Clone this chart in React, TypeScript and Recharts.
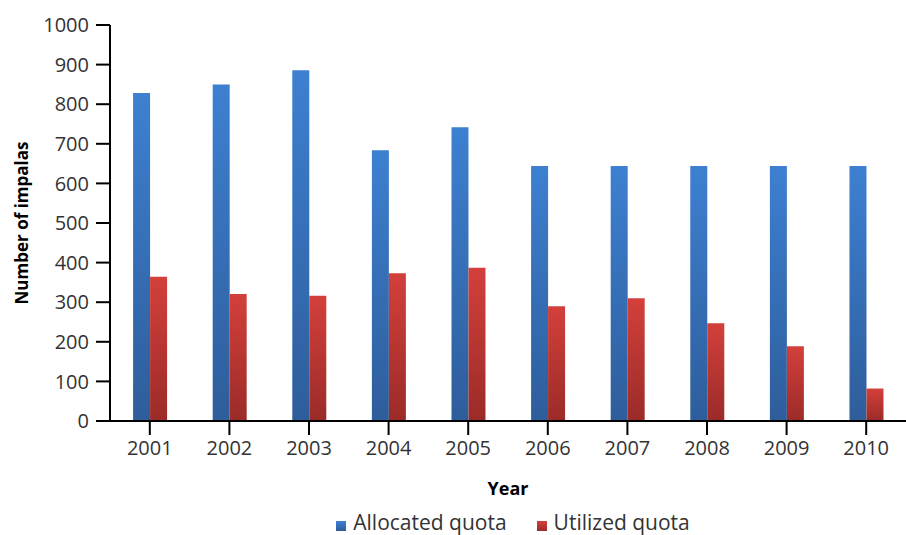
import { Bar, BarChart, Legend, XAxis, YAxis } from "recharts";

const years = ["2001", "2002", "2003", "2004", "2005", "2006", "2007", "2008", "2009", "2010"];
const allocatedQuota = [828, 850, 886, 684, 742, 644, 644, 644, 644, 644];
const utilizedQuota = [364, 321, 316, 373, 387, 290, 310, 247, 189, 82];
const yTicks = [0, 100, 200, 300, 400, 500, 600, 700, 800, 900, 1000];

const data = years.map((year, i) => ({
  year,
  allocated: allocatedQuota[i],
  utilized: utilizedQuota[i],
}));

const font = "'Open Sans', sans-serif";

export default function App() {
  return (
    <div style={{ position: "absolute", left: 0, top: 0, fontFamily: font }}>
      <BarChart
        width={906}
        height={535}
        data={data}
        margin={{ top: 25, right: 0, bottom: 0, left: 0 }}
        barCategoryGap="29%"
        barGap={0}
      >
        <defs>
          <linearGradient id="blueGrad" x1="0" y1="0" x2="0" y2="1">
            <stop offset="0%" stopColor="#3D80D1" />
            <stop offset="100%" stopColor="#2E5D9B" />
          </linearGradient>
          <linearGradient id="redGrad" x1="0" y1="0" x2="0" y2="1">
            <stop offset="0%" stopColor="#D3403B" />
            <stop offset="100%" stopColor="#9B2B28" />
          </linearGradient>
        </defs>
        <XAxis
          dataKey="year"
          height={80}
          axisLine={{ stroke: "#000", strokeWidth: 2 }}
          tickLine={{ stroke: "#000", strokeWidth: 2 }}
          tickSize={14}
          tickMargin={6}
          tick={{ fill: "#333", fontSize: 20, fontFamily: font }}
          label={{
            value: "Year",
            position: "insideBottom",
            offset: 6,
            style: { fill: "#000", fontSize: 18, fontWeight: 700, fontFamily: font },
          }}
        />
        <YAxis
          width={110}
          domain={[0, 1000]}
          ticks={yTicks}
          interval={0}
          axisLine={{ stroke: "#000", strokeWidth: 2 }}
          tickLine={{ stroke: "#000", strokeWidth: 2 }}
          tickSize={14}
          tickMargin={7}
          tick={{ fill: "#333", fontSize: 20, fontFamily: font }}
          label={{
            value: "Number of impalas",
            angle: -90,
            position: "insideLeft",
            offset: 22,
            style: { textAnchor: "middle", fill: "#000", fontSize: 17, fontWeight: 700, fontFamily: font },
          }}
        />
        <Legend
          verticalAlign="bottom"
          height={34}
          iconType="square"
          iconSize={10}
          wrapperStyle={{ left: 110, width: 796, top: 508, textAlign: "center", paddingLeft: 20 }}
          formatter={(value) => (
            <span style={{ color: "#333", fontSize: 21, marginLeft: 3, marginRight: 20 }}>{value}</span>
          )}
        />
        <Bar dataKey="allocated" name="Allocated quota" fill="url(#blueGrad)" isAnimationActive={false} />
        <Bar dataKey="utilized" name="Utilized quota" fill="url(#redGrad)" isAnimationActive={false} />
      </BarChart>
    </div>
  );
}
